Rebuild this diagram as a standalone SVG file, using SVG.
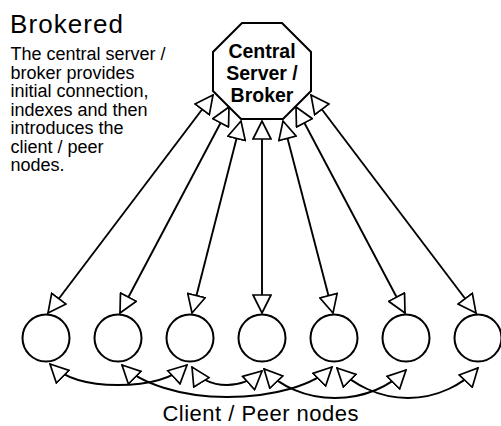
<svg xmlns="http://www.w3.org/2000/svg" width="501" height="426" viewBox="0 0 501 426">
<style>
  .txt { font-family: "Liberation Sans", Arial, sans-serif; fill: #000; }
  .title { font-size: 26px; }
  .desc { font-size: 18px; }
  .srv { font-size: 19.5px; font-weight: bold; text-anchor: middle; }
  .lbl { font-size: 22px; text-anchor: middle; }
  .node { fill: #fff; stroke: #000; stroke-width: 2; }
  .conn { fill: none; stroke: #000; stroke-width: 1.9; marker-start: url(#ah); marker-end: url(#ah); }
</style>
<defs>
  <marker id="ah" markerUnits="userSpaceOnUse" viewBox="-1 -1 20 20" markerWidth="20" markerHeight="20" refX="18" refY="9" orient="auto-start-reverse">
    <path d="M0,0 L18,9 L0,18 Z" fill="#fff" stroke="#000" stroke-width="1.7" stroke-linejoin="miter"/>
  </marker>
</defs>
<rect width="501" height="426" fill="#fff"/>

<g id="title">
  <text class="txt title" x="10" y="33" textLength="113" lengthAdjust="spacing">Brokered</text>
  <text class="txt desc" x="10.5" y="60">The central server /</text>
  <text class="txt desc" x="10.5" y="78.5">broker provides</text>
  <text class="txt desc" x="10.5" y="97">initial connection,</text>
  <text class="txt desc" x="10.5" y="115.5">indexes and then</text>
  <text class="txt desc" x="10.5" y="134">introduces the</text>
  <text class="txt desc" x="10.5" y="152.5">client / peer</text>
  <text class="txt desc" x="10.5" y="171">nodes.</text>
</g>

<g id="server">
  <polygon class="node" points="242,23 282,23 311,52 311,91 283,119 241,119 213,91 213,52"/>
  <text class="txt srv" x="262" y="58">Central</text>
  <text class="txt srv" x="262" y="80">Server /</text>
  <text class="txt srv" x="262" y="102">Broker</text>
</g>

<g id="peer1"><circle class="node" cx="46" cy="338" r="23.5"/></g>
<g id="peer2"><circle class="node" cx="118" cy="338" r="23.5"/></g>
<g id="peer3"><circle class="node" cx="190" cy="338" r="23.5"/></g>
<g id="peer4"><circle class="node" cx="262" cy="338" r="23.5"/></g>
<g id="peer5"><circle class="node" cx="334" cy="338" r="23.5"/></g>
<g id="peer6"><circle class="node" cx="406" cy="338" r="23.5"/></g>
<g id="peer7"><circle class="node" cx="478" cy="338" r="23.5"/></g>

<g id="connectors">
  <path class="conn" d="M48,313 L213,95"/>
  <path class="conn" d="M120,313 L229,107"/>
  <path class="conn" d="M192,313 L241,121"/>
  <path class="conn" d="M262,313 L262,121"/>
  <path class="conn" d="M333,313 L283,121"/>
  <path class="conn" d="M405,313 L296,107"/>
  <path class="conn" d="M476,313 L311,95"/>

  <path class="conn" d="M50,364 C66,380 90,385 118,385 C146,385 171,380 187,365"/>
  <path class="conn" d="M122,365 C140,383 180,397 227,397 C274,397 314,385 332,367"/>
  <path class="conn" d="M192,367 C200,380 212,385 227,385 C242,385 252,380 262,371"/>
  <path class="conn" d="M264,369 C280,386 305,398 335,398 C365,398 390,386 406,370"/>
  <path class="conn" d="M337,368 C353,384 378,398 408,398 C438,398 463,384 478,368"/>
</g>

<g id="footer">
  <text class="txt lbl" x="260.5" y="421" textLength="196" lengthAdjust="spacing">Client / Peer nodes</text>
</g>
</svg>
